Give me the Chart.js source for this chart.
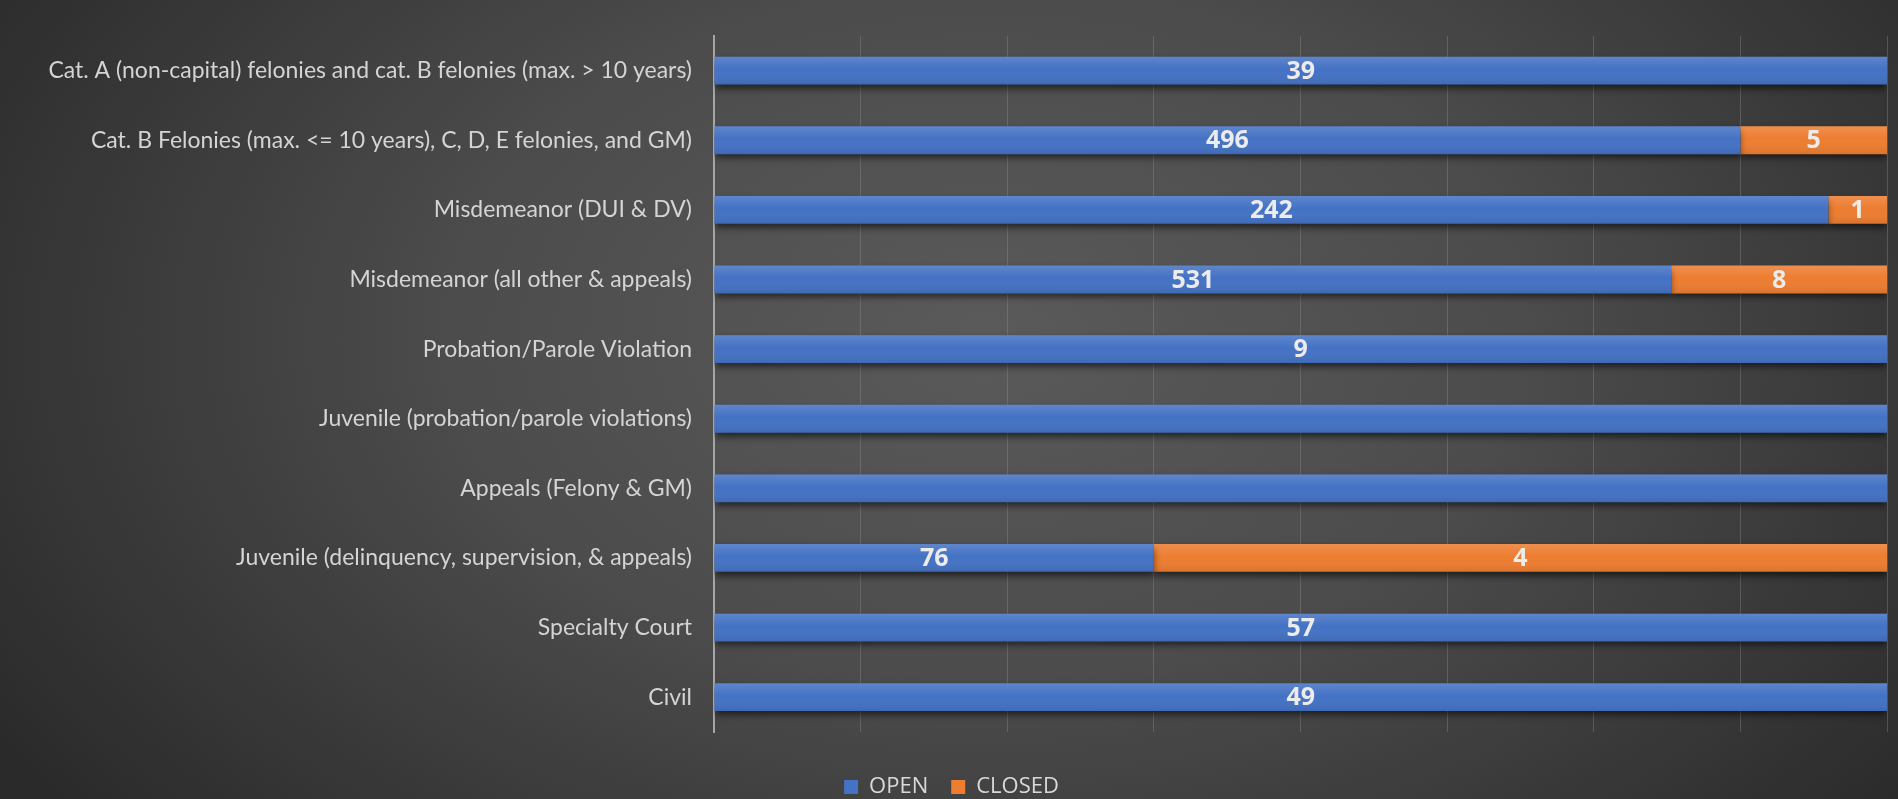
<!DOCTYPE html>
<html>
<head>
<meta charset="utf-8">
<script src="https://cdn.jsdelivr.net/npm/chart.js@4.4.1/dist/chart.umd.min.js"></script>
<style>
html, body { margin: 0; padding: 0; }
body {
  width: 1898px; height: 799px; overflow: hidden;
  background: radial-gradient(ellipse 62% 95% at 52% 42%, #5a5a5a 0%, #4c4c4c 45%, #2a2a2a 100%);
}
</style>
</head>
<body>
<canvas id="chart" width="1898" height="799"></canvas>
<script>
// categories, top to bottom
const categories = [
  "Cat. A (non-capital) felonies and cat. B felonies (max. > 10 years)",
  "Cat. B Felonies (max. <= 10 years), C, D, E felonies, and GM)",
  "Misdemeanor (DUI & DV)",
  "Misdemeanor (all other & appeals)",
  "Probation/Parole Violation",
  "Juvenile (probation/parole violations)",
  "Appeals (Felony & GM)",
  "Juvenile (delinquency, supervision, & appeals)",
  "Specialty Court",
  "Civil"
];

// share of each bar (100% stacked)
const openShare   = [100, 87.5, 95, 81.6, 100, 100, 100, 37.5, 100, 100];
const closedShare = [0, 12.5, 5, 18.4, 0, 0, 0, 62.5, 0, 0];

// counts printed on the segments
const openCounts   = [39, 496, 242, 531, 9, null, null, 76, 57, 49];
const closedCounts = [null, 5, 1, 8, null, null, null, 4, null, null];

const seriesNames = ["OPEN", "CLOSED"];

// shadow + shine on the bars, and the count labels
const barStyle = {
  id: 'barStyle',
  beforeDatasetsDraw(chart) {
    const c = chart.ctx;
    c.save();
    c.shadowColor = 'rgba(0,0,0,0.6)';
    c.shadowBlur = 7;
    c.shadowOffsetY = 4;
  },
  afterDatasetsDraw(chart) {
    const c = chart.ctx;
    c.restore();
    c.save();
    chart.data.datasets.forEach((ds, di) => {
      chart.getDatasetMeta(di).data.forEach((bar, i) => {
        if (!ds.data[i]) return;
        const top = bar.y - bar.height / 2;
        const g = c.createLinearGradient(0, top, 0, top + bar.height);
        g.addColorStop(0, 'rgba(255,255,255,0.14)');
        g.addColorStop(0.45, 'rgba(255,255,255,0)');
        g.addColorStop(1, 'rgba(0,0,0,0.08)');
        c.fillStyle = g;
        c.fillRect(bar.base, top, bar.x - bar.base, bar.height);
        const label = ds.counts[i];
        if (label != null) {
          c.fillStyle = '#ececec';
          c.font = 'bold 25px "Open Sans"';
          c.textAlign = 'center';
          c.textBaseline = 'middle';
          c.fillText(label, (bar.base + bar.x) / 2, bar.y + 1);
        }
      });
    });
    c.restore();
  }
};

new Chart(document.getElementById('chart'), {
  type: 'bar',
  data: {
    labels: categories,
    datasets: [
      { label: seriesNames[0], data: openShare, counts: openCounts, backgroundColor: '#4472C4', borderWidth: 0 },
      { label: seriesNames[1], data: closedShare, counts: closedCounts, backgroundColor: '#ED7D31', borderWidth: 0 }
    ]
  },
  options: {
    indexAxis: 'y',
    responsive: false,
    devicePixelRatio: 1,
    animation: false,
    categoryPercentage: 1,
    barPercentage: 0.4,
    layout: { padding: { top: 9, right: 11, bottom: -9, left: 16 } },
    scales: {
      x: {
        stacked: true,
        min: 0,
        max: 100,
        ticks: { display: false, stepSize: 12.5 },
        grid: { color: 'rgba(150,150,150,0.35)', drawTicks: false },
        border: { display: false },
        afterFit(scale) { scale.height = 21; }
      },
      y: {
        stacked: true,
        grid: { display: false, drawTicks: false },
        border: { display: true, color: '#a6a6a6', width: 2 },
        ticks: { color: '#d4d4d4', font: { family: 'Lato', size: 23 }, padding: 22 },
        afterFit(scale) { scale.width = 698; }
      }
    },
    plugins: {
      legend: {
        position: 'bottom',
        labels: {
          color: '#d9d9d9',
          font: { family: 'Open Sans', size: 22 },
          boxWidth: 14,
          boxHeight: 14,
          padding: 23
        }
      },
      tooltip: { enabled: false }
    }
  },
  plugins: [barStyle]
});
</script>
</body>
</html>
